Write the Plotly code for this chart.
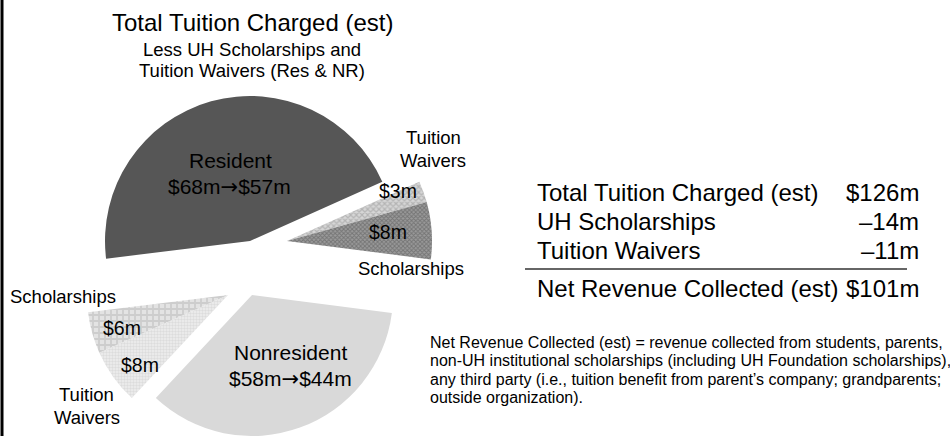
import plotly.graph_objects as go

# ---- data ----
slice_names = ["Resident", "Resident Tuition Waivers", "Resident Scholarships",
               "Nonresident", "Nonresident Tuition Waivers", "Nonresident Scholarships"]
slice_values = [57, 3, 8, 44, 8, 6]  # $m, net of scholarships/waivers
resident_gross, resident_net = 68, 57
nonres_gross, nonres_net = 58, 44
table_labels = ["Total Tuition Charged (est)", "UH Scholarships", "Tuition Waivers"]
table_values = ["$126m", "–14m", "–11m"]
total_label, total_value = "Net Revenue Collected (est)", "$101m"

W, H = 950, 436
FONT = "Liberation Sans, Arial, sans-serif"
ARROW = '<span style="font-family:DejaVu Sans">→</span>'

def px(x):
    return x / W

def py(y):
    return 1 - y / H

fills = ["#565656", "#d6d6d6", "#9a9a9a", "#d9d9d9", "#efefef", "#e3e3e3"]
pat_shape = ["", "x", "x", "", ".", "+"]
pat_fg = ["#565656", "#b4b4b4", "#747474", "#d9d9d9", "#dcdcdc", "#cdcdcd"]
pat_size = [4, 4, 3, 4, 3, 6]

# groups of slices drawn together, with the pixel position of their (exploded) vertex and radius
groups = [
    ([0], (250, 241), 145),
    ([1, 2], (287, 241), 145),
    ([3], (252, 295), 141),
    ([4, 5], (228, 295), 141),
]

fig = go.Figure()
for idx, (cx, cy), r in groups:
    colors = [fills[i] if i in idx else "rgba(0,0,0,0)" for i in range(6)]
    shapes = [pat_shape[i] if i in idx else "" for i in range(6)]
    fgs = [pat_fg[i] if i in idx else "rgba(0,0,0,0)" for i in range(6)]
    fig.add_trace(go.Pie(
        labels=slice_names, values=slice_values, sort=False,
        direction="clockwise", rotation=263,
        marker=dict(colors=colors, line=dict(width=0),
                    pattern=dict(shape=shapes, fgcolor=fgs, bgcolor=colors,
                                 size=pat_size, solidity=0.5, fillmode="replace")),
        textinfo="none", hoverinfo="skip", showlegend=False,
        domain=dict(x=[px(cx - r), px(cx + r)], y=[py(cy + r), py(cy - r)]),
    ))

ann = []

def A(text, x, y, size, xanchor="center", color="#000"):
    ann.append(dict(text=text, x=px(x), y=py(y), xref="paper", yref="paper",
                    xanchor=xanchor, yanchor="middle", showarrow=False,
                    font=dict(family=FONT, size=size, color=color)))

# titles
A("Total Tuition Charged (est)", 252, 23, 24)
A("Less UH Scholarships and", 252, 49, 18.5)
A("Tuition Waivers (Res & NR)", 252, 71, 18.5)

# slice labels
A("Resident", 230, 160, 21)
A(f"${resident_gross}m{ARROW}${resident_net}m", 229, 187, 21)
A("Nonresident", 290, 352, 21)
A(f"${nonres_gross}m{ARROW}${nonres_net}m", 290, 379, 21)
A("Tuition", 433, 137, 18.5)
A("Waivers", 433, 160, 18.5)
A(f"${slice_values[1]}m", 398, 191, 19.5)
A(f"${slice_values[2]}m", 388, 232, 19.5)
A("Scholarships", 411, 268, 18.5)
A("Scholarships", 63, 296, 18.5)
A(f"${slice_values[5]}m", 122, 328, 19.5)
A(f"${slice_values[4]}m", 140, 365, 19.5)
A("Tuition", 86, 394, 18.5)
A("Waivers", 87, 417, 18.5)

# summary table
rows_y = [193, 221, 250]
for lab, val, yy in zip(table_labels, table_values, rows_y):
    A(lab, 535, yy, 24, "left")
    A(val, 921, yy, 24, "right")
A(total_label, 535, 288, 24, "left")
A(total_value, 921, 288, 24, "right")

# footnote
foot = ["Net Revenue Collected (est) = revenue collected from students, parents,",
        "non-UH institutional scholarships (including UH Foundation scholarships),",
        "any third party (i.e., tuition benefit from parent’s company; grandparents;",
        "outside organization)."]
for k, line in enumerate(foot):
    A(line, 428, 342 + 18.5 * k, 16, "left")

fig.update_layout(
    width=W, height=H, margin=dict(l=0, r=0, t=0, b=0),
    paper_bgcolor="white", plot_bgcolor="white",
    annotations=ann,
    shapes=[
        dict(type="line", xref="paper", yref="paper", x0=px(525), x1=px(907),
             y0=py(269), y1=py(269), line=dict(color="#333", width=1.5)),
        dict(type="line", xref="paper", yref="paper", x0=px(2), x1=px(2),
             y0=0, y1=1, line=dict(color="#000", width=3)),
    ],
)

fig.write_html("out.html", config={"displayModeBar": False},
               post_script="document.body.style.margin='0px';document.body.style.overflow='hidden';")
